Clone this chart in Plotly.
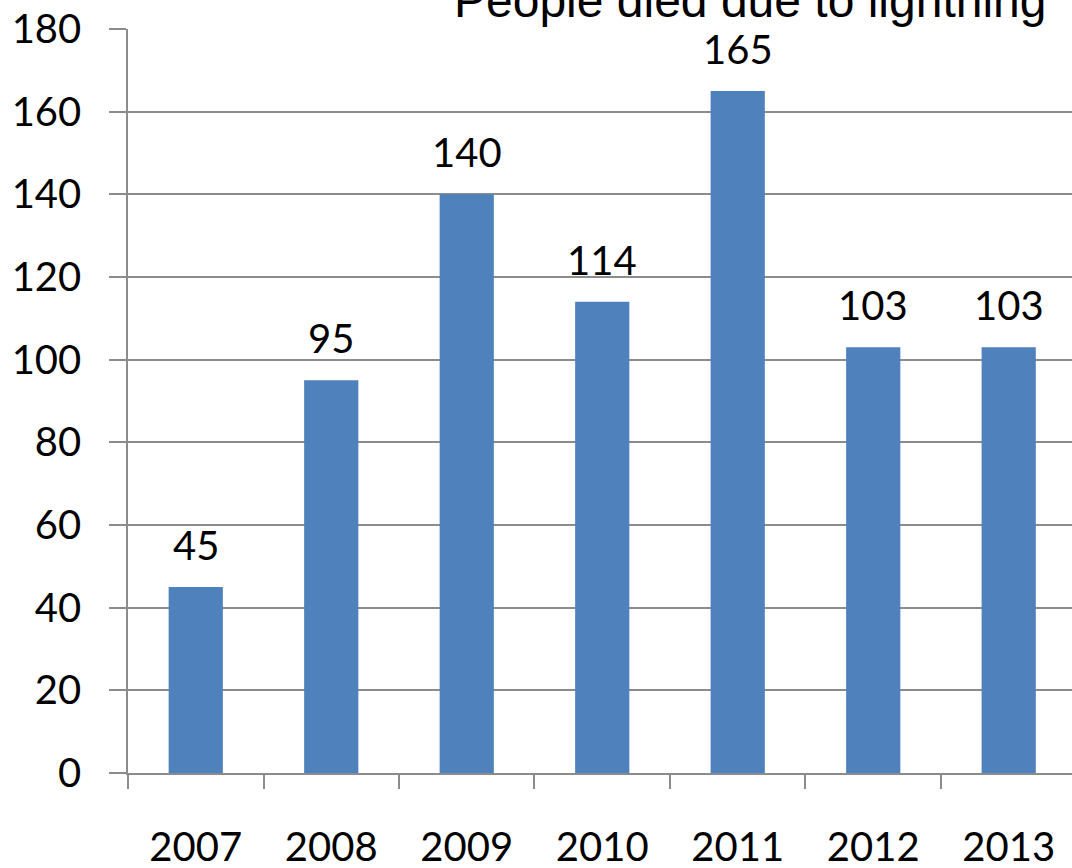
import plotly.graph_objects as go

# Lightning deaths per year
years = ["2007", "2008", "2009", "2010", "2011", "2012", "2013"]
deaths = [45, 95, 140, 114, 165, 103, 103]
y_ticks = [0, 20, 40, 60, 80, 100, 120, 140, 160, 180]

bar_color = "#4F81BD"
grid_color = "#8c8c8c"
label_font = dict(family="Lato", size=40, color="#000000")

fig = go.Figure(
    go.Bar(
        x=years,
        y=deaths,
        marker=dict(color=bar_color, line=dict(width=0)),
        hoverinfo="x+y",
    )
)

# value labels sitting above each bar (category index used as x position)
for i, val in enumerate(deaths):
    fig.add_annotation(
        x=i, y=val, text=str(val), showarrow=False,
        yanchor="bottom", yshift=16, font=label_font,
    )

fig.add_annotation(
    text="People died due to lightning",
    xref="paper", yref="paper", x=(750 - 128) / 944, y=1,
    xanchor="center", yanchor="bottom", yshift=0, showarrow=False,
    font=dict(family="Liberation Sans, Arial", size=48, color="#000000"),
)

fig.update_layout(
    width=1072, height=868,
    margin=dict(l=128, r=0, t=29, b=95),
    paper_bgcolor="white", plot_bgcolor="white",
    bargap=0.6,
    showlegend=False,
    font=label_font,
)

fig.update_xaxes(
    type="category",
    range=[-0.5, 6.467],
    automargin=False,
    showgrid=False,
    showline=True, linecolor=grid_color, linewidth=1.5,
    ticks="outside", tickson="boundaries", ticklen=14,
    tickcolor=grid_color, tickwidth=1.5,
    ticklabelstandoff=38,
    tickfont=label_font,
)

fig.update_yaxes(
    range=[0, 180],
    tickvals=y_ticks,
    automargin=False,
    showgrid=True, gridcolor=grid_color, gridwidth=1.5,
    showline=True, linecolor=grid_color, linewidth=1.5,
    zeroline=False,
    ticks="outside", ticklen=17, tickcolor=grid_color, tickwidth=1.5,
    ticklabelstandoff=20,
    tickfont=label_font,
)

fig.write_html("out.html")
